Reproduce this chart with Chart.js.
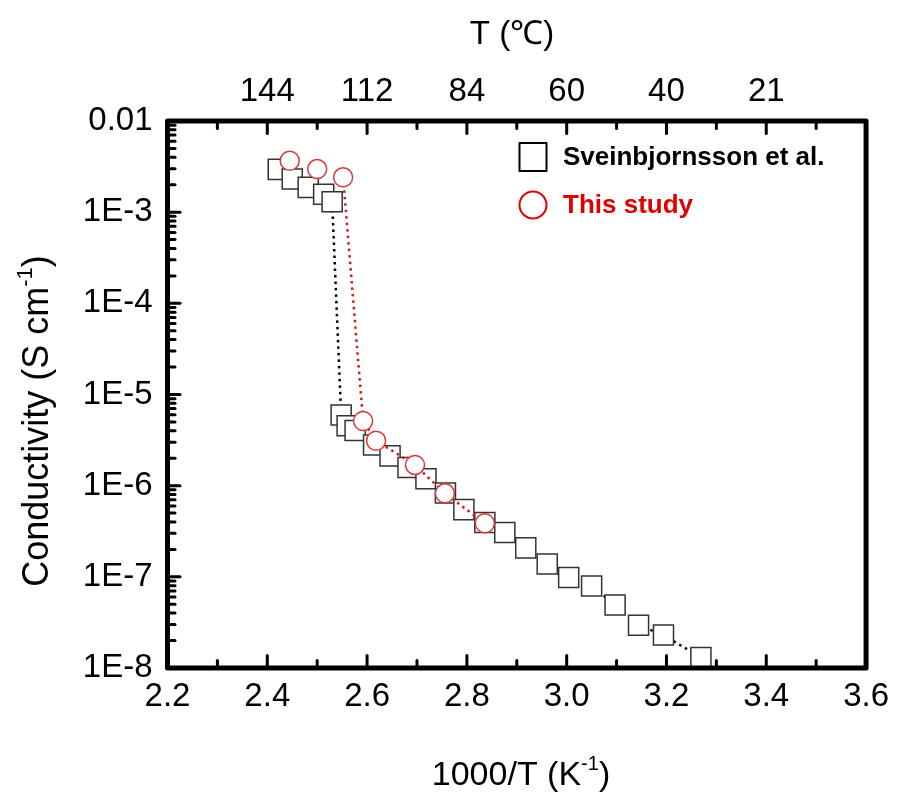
<!DOCTYPE html>
<html lang="en">
<head>
<meta charset="UTF-8">
<title>Conductivity vs 1000/T</title>
<style>
    html, body {
        margin: 0;
        padding: 0;
        background: #ffffff;
    }
    #wrap {
        width: 898px;
        height: 798px;
    }
</style>
<script src="https://cdn.jsdelivr.net/npm/chart.js"></script>
</head>
<body>
<div id="wrap"><canvas id="condChart" width="898" height="798"></canvas></div>

<script>
    // Sveinbjornsson et al. (squares)
    const sveinX = [2.422, 2.450, 2.482, 2.513, 2.530,
                    2.548, 2.560, 2.576, 2.613, 2.646, 2.682, 2.718, 2.757, 2.794,
                    2.836, 2.876, 2.918, 2.961, 3.004, 3.050, 3.097, 3.144, 3.194, 3.269];
    const sveinY = [2.95e-3, 2.31e-3, 1.87e-3, 1.57e-3, 1.30e-3,
                    5.96e-6, 4.55e-6, 4.03e-6, 2.79e-6, 2.12e-6, 1.58e-6, 1.19e-6, 8.32e-7, 5.46e-7,
                    3.95e-7, 3.06e-7, 2.08e-7, 1.38e-7, 9.84e-8, 7.94e-8, 4.91e-8, 2.94e-8, 2.30e-8, 1.30e-8];

    // This study (circles)
    const studyX = [2.445, 2.500, 2.552, 2.592, 2.618, 2.696, 2.756, 2.836];
    const studyY = [3.67e-3, 2.97e-3, 2.41e-3, 5.12e-6, 3.11e-6, 1.69e-6, 8.24e-7, 3.87e-7];

    // axes
    const xTickValues = [2.2, 2.4, 2.6, 2.8, 3.0, 3.2, 3.4, 3.6];
    const topTickValues = [2.4, 2.6, 2.8, 3.0, 3.2, 3.4];
    const topTickLabels = ['144', '112', '84', '60', '40', '21'];
    const yTickValues = [1e-8, 1e-7, 1e-6, 1e-5, 1e-4, 1e-3, 1e-2];
    const yTickLabels = ['1E-8', '1E-7', '1E-6', '1E-5', '1E-4', '1E-3', '0.01'];

    const FONT = '"Liberation Sans", Arial, sans-serif';
    const RED = '#e00000';

    // text with superscript parts, centred on (cx, cy)
    function drawRich(ctx, parts, cx, cy, rot, size) {
        const supSize = Math.round(size * 0.6);
        ctx.save();
        ctx.translate(cx, cy);
        ctx.rotate(rot);
        ctx.textBaseline = 'middle';
        ctx.textAlign = 'left';
        let total = 0;
        parts.forEach(p => {
            ctx.font = (p.sup ? supSize : size) + 'px ' + FONT;
            p.w = ctx.measureText(p.t).width;
            total += p.w;
        });
        let x = -total / 2;
        parts.forEach(p => {
            ctx.font = (p.sup ? supSize : size) + 'px ' + FONT;
            ctx.fillText(p.t, x, p.sup ? -size * 0.33 : 0);
            x += p.w;
        });
        ctx.restore();
    }

    const framePlugin = {
        id: 'frame',
        afterDraw(chart) {
            const ctx = chart.ctx;
            const a = chart.chartArea;
            const xs = chart.scales.x, ys = chart.scales.y;
            const half = 2.5;
            ctx.save();
            ctx.strokeStyle = '#000';
            ctx.lineCap = 'round';
            ctx.lineWidth = 3;

            // x ticks (bottom and top, pointing inward)
            const xMinor = [];
            for (let i = 0; i < xTickValues.length - 1; i++) {
                xMinor.push((xTickValues[i] + xTickValues[i + 1]) / 2);
            }
            const tick = (x1, y1, x2, y2) => {
                ctx.beginPath(); ctx.moveTo(x1, y1); ctx.lineTo(x2, y2); ctx.stroke();
            };
            xTickValues.slice(1, -1).forEach(v => {
                const px = xs.getPixelForValue(v);
                tick(px, a.bottom, px, a.bottom - half - 10);
                tick(px, a.top, px, a.top + half + 10);
            });
            xMinor.forEach(v => {
                const px = xs.getPixelForValue(v);
                tick(px, a.bottom, px, a.bottom - half - 5);
                tick(px, a.top, px, a.top + half + 5);
            });

            // y ticks (left only)
            yTickValues.slice(1, -1).forEach(v => {
                const py = ys.getPixelForValue(v);
                tick(a.left, py, a.left + half + 10, py);
            });
            for (let d = 0; d < yTickValues.length - 1; d++) {
                for (let k = 2; k <= 9; k++) {
                    const py = ys.getPixelForValue(yTickValues[d] * k);
                    tick(a.left, py, a.left + half + 5, py);
                }
            }

            // frame
            ctx.lineWidth = 5;
            ctx.lineJoin = 'round';
            ctx.strokeRect(a.left, a.top, a.right - a.left, a.bottom - a.top);

            // axis titles
            ctx.fillStyle = '#000';
            drawRich(ctx, [{ t: 'T (\u2103)' }], 512, 35, 0, 33);
            drawRich(ctx, [{ t: '1000/T (K' }, { t: '-1', sup: true }, { t: ')' }], 521, 776, 0, 34);
            drawRich(ctx, [{ t: 'Conductivity (S cm' }, { t: '-1', sup: true }, { t: ')' }], 38, 421, -Math.PI / 2, 36);

            // legend
            const ds = chart.data.datasets;
            ctx.lineWidth = 2;
            ctx.strokeStyle = '#000';
            ctx.strokeRect(519.5, 143, 27, 28);
            ctx.strokeStyle = RED;
            ctx.beginPath();
            ctx.arc(533, 205, 13.5, 0, Math.PI * 2);
            ctx.stroke();
            ctx.font = 'bold 26px ' + FONT;
            ctx.textBaseline = 'middle';
            ctx.textAlign = 'left';
            ctx.fillStyle = '#000';
            ctx.fillText(ds[1].label, 563, 158);
            ctx.fillStyle = RED;
            ctx.fillText(ds[0].label, 563, 206);
            ctx.restore();
        }
    };

    const tickFont = { family: FONT, size: 33 };

    new Chart(document.getElementById('condChart'), {
        type: 'scatter',
        data: {
            datasets: [
                {
                    label: 'This study',
                    data: studyX.map((x, i) => ({ x: x, y: studyY[i] })),
                    showLine: true,
                    borderColor: '#d41a1a',
                    borderWidth: 2.5,
                    borderDash: [2.5, 4],
                    segment: {
                        borderColor: c => c.p0DataIndex < 2 ? 'rgba(0,0,0,0)' : '#d41a1a'
                    },
                    pointStyle: 'circle',
                    pointRadius: 9.5,
                    pointBorderWidth: 1.5,
                    pointBorderColor: '#d83a3a',
                    pointBackgroundColor: '#ffffff',
                    order: 1
                },
                {
                    label: 'Sveinbjornsson et al.',
                    data: sveinX.map((x, i) => ({ x: x, y: sveinY[i] })),
                    showLine: true,
                    borderColor: '#000000',
                    borderWidth: 2.5,
                    borderDash: [2.5, 4],
                    pointStyle: 'rect',
                    pointRadius: 14.2,
                    pointBorderWidth: 1.5,
                    pointBorderColor: '#333333',
                    pointBackgroundColor: '#ffffff',
                    order: 2
                }
            ]
        },
        options: {
            responsive: false,
            animation: false,
            devicePixelRatio: 1,
            layout: { padding: { left: 0, right: 31, top: 0, bottom: 0 } },
            plugins: {
                legend: { display: false },
                tooltip: { enabled: false }
            },
            scales: {
                x: {
                    type: 'linear',
                    position: 'bottom',
                    min: 2.2,
                    max: 3.6,
                    grid: { display: false, drawTicks: false },
                    border: { display: false },
                    afterBuildTicks: s => { s.ticks = xTickValues.map(v => ({ value: v })); },
                    afterFit: s => { s.height = 130; },
                    ticks: {
                        autoSkip: false,
                        maxRotation: 0,
                        padding: 9,
                        color: '#000',
                        font: tickFont,
                        callback: v => v.toFixed(1)
                    }
                },
                x2: {
                    type: 'linear',
                    position: 'top',
                    min: 2.2,
                    max: 3.6,
                    grid: { display: false, drawTicks: false },
                    border: { display: false },
                    afterBuildTicks: s => { s.ticks = topTickValues.map(v => ({ value: v })); },
                    afterFit: s => { s.height = 121; },
                    ticks: {
                        autoSkip: false,
                        maxRotation: 0,
                        padding: 9,
                        color: '#000',
                        font: tickFont,
                        callback: (v, i) => topTickLabels[i]
                    }
                },
                y: {
                    type: 'logarithmic',
                    position: 'left',
                    min: 1e-8,
                    max: 1e-2,
                    grid: { display: false, drawTicks: false },
                    border: { display: false },
                    afterBuildTicks: s => { s.ticks = yTickValues.map(v => ({ value: v, major: true })); },
                    afterFit: s => { s.width = 167.5; },
                    ticks: {
                        autoSkip: false,
                        padding: 15,
                        color: '#000',
                        font: tickFont,
                        callback: (v, i) => yTickLabels[i]
                    }
                }
            }
        },
        plugins: [framePlugin]
    });
</script>
</body>
</html>
